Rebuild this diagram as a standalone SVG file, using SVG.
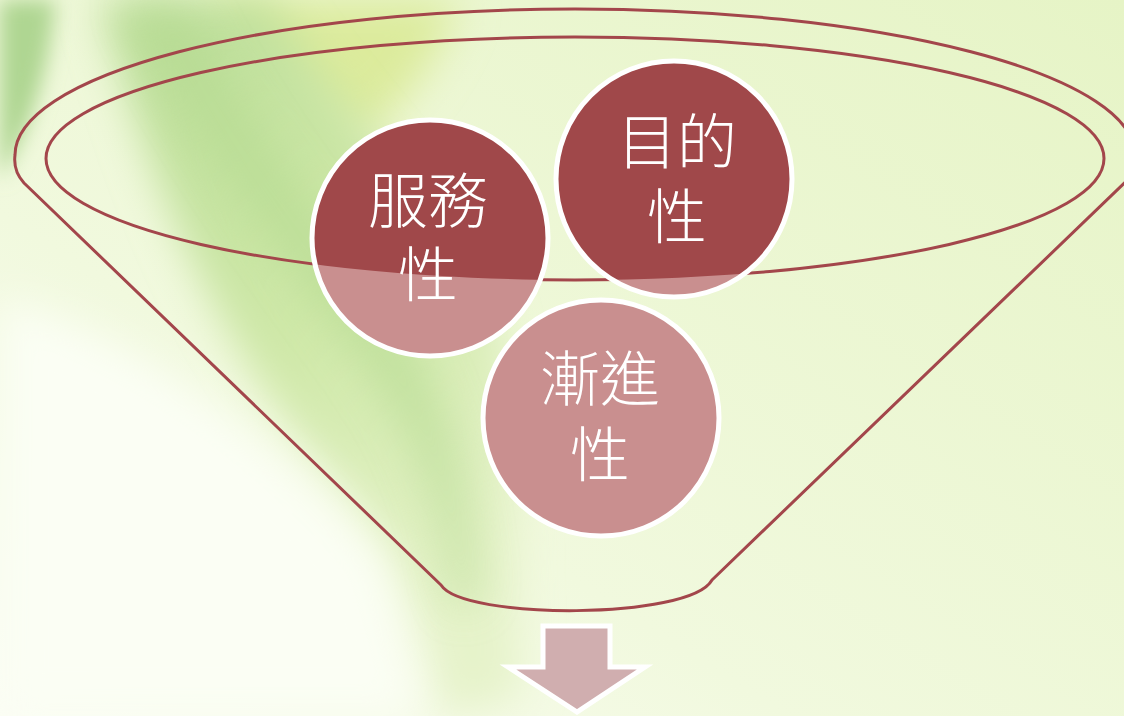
<svg xmlns="http://www.w3.org/2000/svg" width="1124" height="716" viewBox="0 0 1124 716">
  <defs>
    <linearGradient id="bgBase" x1="0" y1="1" x2="1" y2="0">
      <stop offset="0" stop-color="#FBFDF4"/>
      <stop offset="0.35" stop-color="#F1F9DE"/>
      <stop offset="1" stop-color="#E6F4C6"/>
    </linearGradient>
    <linearGradient id="leafBand" x1="0" y1="0" x2="0.6" y2="1">
      <stop offset="0" stop-color="#BADD98"/>
      <stop offset="0.55" stop-color="#CFE8A8"/>
      <stop offset="1" stop-color="#E6F3CA"/>
    </linearGradient>
    <filter id="blur20" x="-30%" y="-30%" width="160%" height="160%">
      <feGaussianBlur stdDeviation="20"/>
    </filter>
    <filter id="blur10" x="-30%" y="-30%" width="160%" height="160%">
      <feGaussianBlur stdDeviation="10"/>
    </filter>
    <clipPath id="rimClip">
      <ellipse cx="575" cy="158.5" rx="529" ry="121.5"/>
    </clipPath>
    <style>
      .rim { fill: none; stroke: #A3464B; stroke-width: 3; stroke-linejoin: round; }
      .light { fill: #C98F8F; }
      .dark { fill: #A0484A; }
      .ring { fill: none; stroke: #FFFFFF; stroke-width: 5; }
      .label { font-family: "Liberation Sans", "Noto Sans CJK TC", "Noto Sans CJK JP", sans-serif; font-weight: 300; font-size: 60px; fill: #FFFFFF; text-anchor: middle; }
    </style>
  </defs>

  <!-- background -->
  <g id="background">
    <rect x="0" y="0" width="1124" height="716" fill="url(#bgBase)"/>
    <path d="M0,0 L55,0 C50,70 30,130 0,180 Z" fill="#AFD692" filter="url(#blur10)"/>
    <path d="M200,0 L460,0 C440,60 400,110 360,140 C300,100 240,50 200,0 Z" fill="#DCEB9C" filter="url(#blur20)"/>
    <path d="M100,0 L270,0 C340,110 440,200 490,300 C520,400 515,520 520,700 L440,716 C420,600 380,520 320,460 C230,360 160,220 100,0 Z" fill="url(#leafBand)" filter="url(#blur20)"/>
    <path d="M125,0 L185,0 C240,110 320,220 400,320 C450,400 470,480 480,600 L455,610 C440,500 410,430 350,350 C260,230 180,120 125,0 Z" fill="#B3D98F" filter="url(#blur20)" opacity="0.55"/>
    <path d="M0,300 C120,330 260,420 380,560 L420,716 L0,716 Z" fill="#FBFEF4" filter="url(#blur20)"/>
  </g>

  <!-- funnel -->
  <g id="funnel">
    <path class="rim" d="M441,585 L24,183 Q13,171 15,155 A560,146 0 0 1 1135,155 L1140,168 L712,580 C690,620 463,620 441,585 Z"/>
    <ellipse class="rim" cx="575" cy="158.5" rx="529" ry="121.5"/>
  </g>

  <!-- nodes -->
  <g id="node-service">
    <circle class="light" cx="430" cy="238" r="118"/>
    <circle class="dark" cx="430" cy="238" r="118" clip-path="url(#rimClip)"/>
    <circle class="ring" cx="430" cy="238" r="118"/>
    <text class="label" x="428" y="223">服務<tspan x="428" y="297">性</tspan></text>
  </g>

  <g id="node-purpose">
    <circle class="light" cx="674" cy="179" r="118"/>
    <circle class="dark" cx="674" cy="179" r="118" clip-path="url(#rimClip)"/>
    <circle class="ring" cx="674" cy="179" r="118"/>
    <text class="label" x="677" y="164">目的<tspan x="677" y="239">性</tspan></text>
  </g>

  <g id="node-progressive">
    <circle class="light" cx="601" cy="418" r="118"/>
    <circle class="ring" cx="601" cy="418" r="118"/>
    <text class="label" x="600" y="401">漸進<tspan x="600" y="477">性</tspan></text>
  </g>

  <!-- connectors -->
  <g id="connectors">
    <path d="M543,626 L610,626 L610,667 L645,667 L577,712 L508,667 L543,667 Z" fill="#D0AEAF" stroke="#FFFFFF" stroke-width="5" stroke-linejoin="miter"/>
  </g>
</svg>
